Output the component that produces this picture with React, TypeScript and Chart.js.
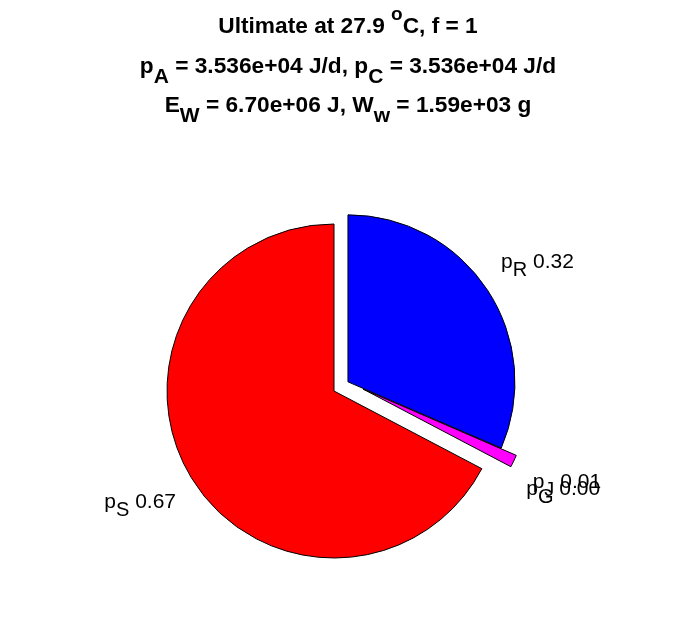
import React, { useEffect, useRef } from 'react';
import { Chart, registerables } from 'chart.js';

Chart.register(...registerables);

// ---- data ----
const sliceSubscripts = ['R', 'J', 'G', 'S'];
const sliceShares = [0.315, 0.012, 0.0, 0.673];
const shareLabels = ['0.32', '0.01', '0.00', '0.67'];
const sliceColors = ['#0000ff', '#ff00ff', '#00ff00', '#ff0000'];
const exploded = [true, true, false, false];
const carryShift = [true, true, true, false];

const titleTemp = '27.9';
const titleF = '1';
const pAText = '3.536e+04';
const pCText = '3.536e+04';
const eWText = '6.70e+06';
const wWText = '1.59e+03';

type Seg = { t: string; s?: number };

const titleLines: Seg[][] = [
  [{ t: `Ultimate at ${titleTemp} ` }, { t: 'o', s: -1 }, { t: `C, f = ${titleF}` }],
  [{ t: 'p' }, { t: 'A', s: 1 }, { t: ` = ${pAText} J/d, p` }, { t: 'C', s: 1 }, { t: ` = ${pCText} J/d` }],
  [{ t: 'E' }, { t: 'W', s: 1 }, { t: ` = ${eWText} J, W` }, { t: 'w', s: 1 }, { t: ` = ${wWText} g` }],
];

const FONT_FAMILY = '"Liberation Sans", Arial, sans-serif';

function drawSegs(
  ctx: CanvasRenderingContext2D,
  segs: Seg[],
  cx: number,
  baseline: number,
  font: string,
  smallFont: string,
  subShift: number,
  supShift: number
) {
  const fontOf = (s: Seg) => (s.s ? smallFont : font);
  const widths = segs.map((s) => {
    ctx.font = fontOf(s);
    return ctx.measureText(s.t).width;
  });
  const total = widths.reduce((a, b) => a + b, 0);
  let x = cx - total / 2;
  ctx.textAlign = 'left';
  ctx.textBaseline = 'alphabetic';
  segs.forEach((s, i) => {
    const dy = s.s === 1 ? subShift : s.s === -1 ? supShift : 0;
    ctx.font = fontOf(s);
    ctx.fillText(s.t, x, baseline + dy);
    x += widths[i];
  });
}

const explodePlugin = {
  id: 'explodeSlices',
  afterDatasetsUpdate(chart: any) {
    const meta = chart.getDatasetMeta(0);
    let sx = 0;
    let sy = 0;
    meta.data.forEach((el: any, i: number) => {
      if (!carryShift[i]) return;
      const mid = (el.startAngle + el.endAngle) / 2;
      const d = 0.1 * el.outerRadius;
      if (exploded[i]) {
        sx += d * Math.cos(mid);
        sy += d * Math.sin(mid);
      }
      el.x += sx;
      el.y += sy;
    });
  },
};

const labelPlugin = {
  id: 'sliceLabels',
  afterDatasetsDraw(chart: any) {
    const ctx: CanvasRenderingContext2D = chart.ctx;
    const meta = chart.getDatasetMeta(0);
    ctx.save();
    ctx.fillStyle = '#000';
    meta.data.forEach((el: any, i: number) => {
      const mid = (el.startAngle + el.endAngle) / 2;
      const r = el.outerRadius * 1.3;
      const c = Math.cos(mid);
      const x = el.x + r * c + (c >= 0 ? 8 : -8);
      const y = el.y + r * Math.sin(mid);
      drawSegs(
        ctx,
        [{ t: 'p' }, { t: sliceSubscripts[i], s: 1 }, { t: ' ' + shareLabels[i] }],
        x,
        y + 5,
        `21px ${FONT_FAMILY}`,
        `20px ${FONT_FAMILY}`,
        8,
        0
      );
    });
    ctx.restore();
  },
};

const titlePlugin = {
  id: 'richTitle',
  afterDraw(chart: any) {
    const ctx: CanvasRenderingContext2D = chart.ctx;
    ctx.save();
    ctx.fillStyle = '#000';
    const baselines = [33, 72.5, 111.7];
    titleLines.forEach((line, i) => {
      drawSegs(
        ctx,
        line,
        chart.width / 2,
        baselines[i],
        `bold 22.7px ${FONT_FAMILY}`,
        `bold ${i === 0 ? 19 : 21}px ${FONT_FAMILY}`,
        10,
        -13
      );
    });
    ctx.restore();
  },
};

export default function App() {
  const ref = useRef<HTMLCanvasElement | null>(null);
  useEffect(() => {
    if (!ref.current) return;
    const chart = new Chart(ref.current, {
      type: 'pie',
      data: {
        labels: sliceSubscripts.map((s) => 'p_' + s),
        datasets: [
          {
            data: sliceShares,
            backgroundColor: sliceColors,
            borderColor: '#000',
            borderWidth: 1,
            borderJoinStyle: 'miter',
            hoverOffset: 0,
          } as any,
        ],
      },
      options: {
        animation: false,
        responsive: false,
        events: [],
        radius: 167,
        layout: { padding: { left: 0, right: 28, top: 164, bottom: 0 } },
        plugins: {
          legend: { display: false },
          title: { display: false },
          tooltip: { enabled: false },
        },
      } as any,
      plugins: [explodePlugin, labelPlugin, titlePlugin],
    });
    return () => chart.destroy();
  }, []);
  return (
    <div style={{ position: 'fixed', left: 0, top: 0, width: 696, height: 618, background: '#fff' }}>
      <canvas ref={ref} width={696} height={618} style={{ display: 'block' }} />
    </div>
  );
}
